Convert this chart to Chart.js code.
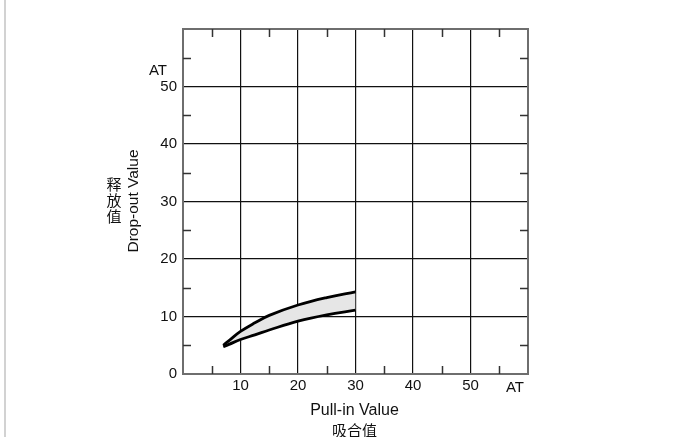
<!DOCTYPE html>
<html>
<head>
<meta charset="utf-8">
<script src="https://cdn.jsdelivr.net/npm/chart.js@4"></script>
<style>
  body { margin: 0; background: #fff; }
  #wrap { position: relative; width: 680px; height: 437px; }
  #edge { position: absolute; left: 4px; top: 0; width: 2px; height: 437px; background: #d2d2d2; }
  canvas { position: absolute; left: 0; top: 0; }
</style>
</head>
<body>
<div id="wrap">
  <div id="edge"></div>
  <canvas id="myChart" width="680" height="437"></canvas>
</div>
<script>
// pull-in value (AT) vs drop-out value (AT), band between upper and lower limits
const pullIn = [7, 8, 10, 12.5, 15, 20, 25, 30];
const dropUpper = [5.0, 5.8, 7.4, 8.9, 10.2, 12.0, 13.3, 14.3];
const dropLower = [4.75, 5.15, 6.0, 6.8, 7.65, 9.2, 10.3, 11.1];
const xMajor = [10, 20, 30, 40, 50];
const yMajor = [0, 10, 20, 30, 40, 50];
const minorTicks = [5, 15, 25, 35, 45, 55];

const font = "'Liberation Sans', Arial, sans-serif";
const cjk = "'Noto Sans CJK SC', sans-serif";

function pts(ys) {
  return pullIn.map((x, i) => ({ x: x, y: ys[i] }));
}

function gridColor(c) {
  const v = c.tick ? c.tick.value : null;
  return (v !== null && v % 10 === 0 && v > 0 && v < 60) ? '#111' : 'rgba(0,0,0,0)';
}

// frame, inner minor ticks and axis captions
const framePlugin = {
  id: 'frame',
  afterDatasetsDraw(chart) {
    const c = chart.ctx, a = chart.chartArea;
    const sx = chart.scales.x, sy = chart.scales.y;
    c.save();
    c.strokeStyle = '#6e6e6e';
    c.lineWidth = 2;
    c.strokeRect(a.left, a.top, a.right - a.left, a.bottom - a.top);
    c.strokeStyle = '#333';
    c.lineWidth = 1.5;
    c.beginPath();
    minorTicks.forEach(v => {
      const px = Math.round(sx.getPixelForValue(v)) + 0.5;
      c.moveTo(px, a.bottom); c.lineTo(px, a.bottom - 8);
      c.moveTo(px, a.top); c.lineTo(px, a.top + 8);
      const py = Math.round(sy.getPixelForValue(v)) + 0.5;
      c.moveTo(a.left, py); c.lineTo(a.left + 8, py);
      c.moveTo(a.right, py); c.lineTo(a.right - 8, py);
    });
    c.stroke();

    const mid = sx.getPixelForValue(30) - 1;
    c.fillStyle = '#111';
    c.textAlign = 'center';
    c.textBaseline = 'middle';
    c.font = '15px ' + font;
    c.fillText('AT', 158, 71);
    c.fillText('AT', 515, 388);
    c.font = '16px ' + font;
    c.fillText('Pull-in Value', mid, 411);
    c.font = '15px ' + cjk;
    c.fillText('吸合值', mid, 430);
    ['释', '放', '值'].forEach((ch, i) => c.fillText(ch, 114, 184 + i * 16));
    c.font = '15.5px ' + font;
    c.translate(134, 201);
    c.rotate(-Math.PI / 2);
    c.fillText('Drop-out Value', 0, 0);
    c.restore();
  }
};

const config = {
  type: 'line',
  data: {
    datasets: [{
      label: 'upper',
      data: pts(dropUpper),
      borderColor: '#000',
      borderWidth: 2.8,
      backgroundColor: '#e6e6e6',
      fill: '+1',
      pointRadius: 0,
      tension: 0.4
    }, {
      label: 'lower',
      data: pts(dropLower),
      borderColor: '#000',
      borderWidth: 2.8,
      fill: false,
      pointRadius: 0,
      tension: 0.4
    }]
  },
  options: {
    responsive: false,
    animation: false,
    layout: { padding: { left: 0, top: 29, right: 152, bottom: 0 } },
    plugins: {
      legend: { display: false }, tooltip: { enabled: false }, title: { display: false },
      filler: { drawTime: 'beforeDatasetsDraw' }
    },
    scales: {
      x: {
        type: 'linear', min: 0, max: 60,
        afterFit(s) { s.height = 63; },
        afterBuildTicks(s) { s.ticks = [0].concat(minorTicks, xMajor, [60]).sort((p, q) => p - q).map(v => ({ value: v })); },
        ticks: {
          padding: 3, color: '#111', maxRotation: 0, autoSkip: false,
          font: { family: font, size: 15 },
          callback: v => xMajor.includes(v) ? String(v) : ''
        },
        grid: { color: gridColor, lineWidth: 1.2, drawTicks: false },
        border: { display: false }
      },
      y: {
        type: 'linear', min: 0, max: 60,
        afterFit(s) { s.width = 183; },
        afterBuildTicks(s) { s.ticks = [0].concat(minorTicks, yMajor.slice(1), [60]).sort((p, q) => p - q).map(v => ({ value: v })); },
        ticks: {
          padding: 6, color: '#111', autoSkip: false,
          font: { family: font, size: 15 },
          callback: v => yMajor.includes(v) ? String(v) : ''
        },
        grid: { color: gridColor, lineWidth: 1.2, drawTicks: false },
        border: { display: false }
      }
    }
  },
  plugins: [framePlugin]
};

var ctx = document.getElementById('myChart').getContext('2d');
var chart = new Chart(ctx, config);
</script>
</body>
</html>
